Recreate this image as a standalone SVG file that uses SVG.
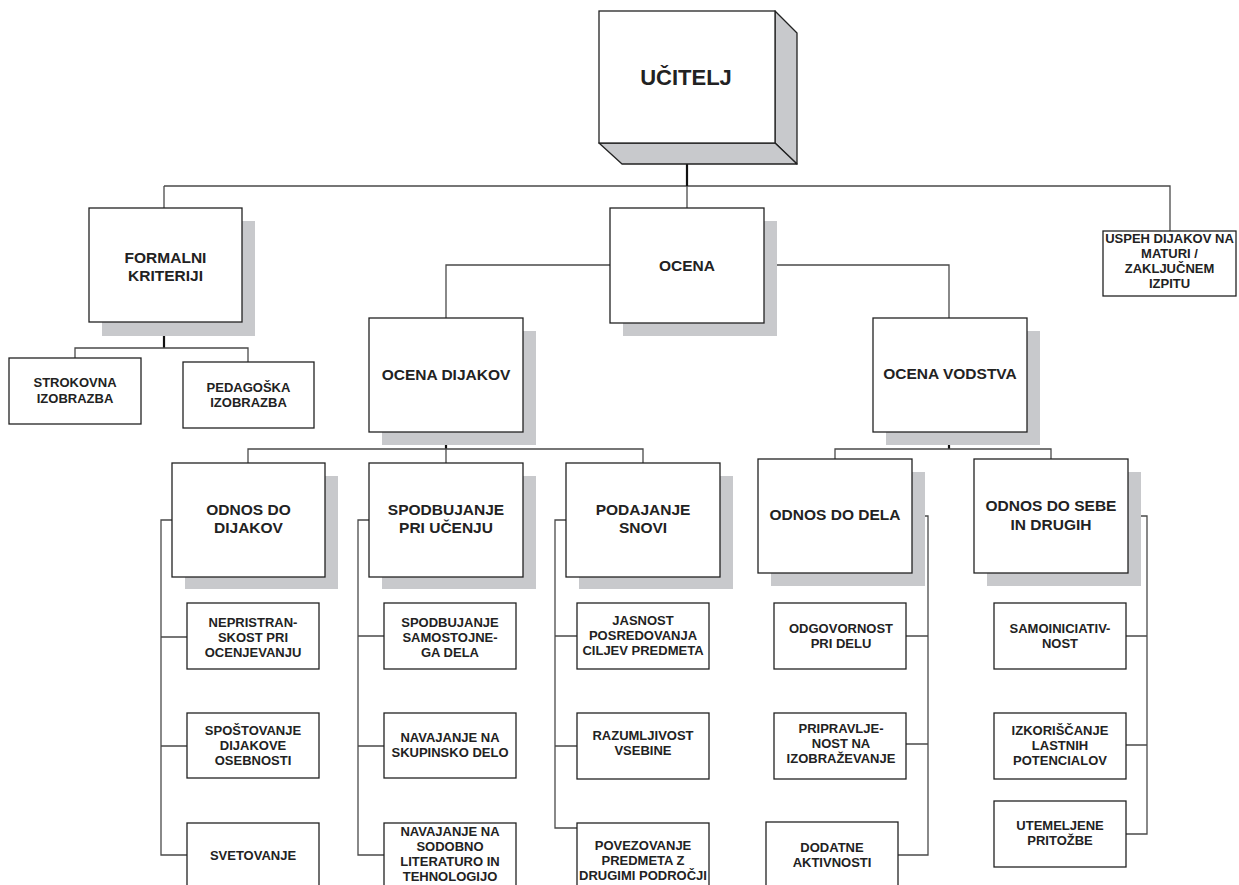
<svg xmlns="http://www.w3.org/2000/svg" width="1239" height="885" viewBox="0 0 1239 885">
<style>
.bg{fill:#fff}
.b{fill:#fff;stroke:#222;stroke-width:1.3}
.sh{fill:#c8c9cc}
.side{fill:#c8c9cc;stroke:#222;stroke-width:1.3;stroke-linejoin:round}
.c{fill:none;stroke:#4a4a4a;stroke-width:1.3}
.k{fill:none;stroke:#111;stroke-width:2.2}
text{font-family:"Liberation Sans",Arial,sans-serif;font-weight:bold;fill:#222;text-anchor:middle}
.t1{font-size:22px}
.t2{font-size:15.5px}
.t3{font-size:13px}
</style>
<rect class="bg" x="0" y="0" width="1239" height="885"/>

<g id="connectors">
  <path class="c" d="M164,186 H1170 V231"/>
  <path class="c" d="M164,186 V208"/>
  <path class="k" d="M687,143 V186"/>
  <path class="c" d="M687,186 V208"/>
  <path class="k" d="M164,322 V348"/>
  <path class="c" d="M75,358 V348 H248 V362"/>
  <path class="c" d="M610,265 H446 V318"/>
  <path class="c" d="M764,265 H949 V318"/>
  <path class="k" d="M446,432 V449"/>
  <path class="c" d="M248,463 V449 H643 V463 M446,449 V463"/>
  <path class="k" d="M949,432 V449"/>
  <path class="c" d="M835,459 V449 H1051 V459"/>
  <path class="c" d="M172,520 H161 V855 H187 M161,637 H187 M161,746 H187"/>
  <path class="c" d="M369,520 H358 V855 H384 M358,636 H384 M358,746 H384"/>
  <path class="c" d="M566,520 H555 V828 H577 M555,636 H577 M555,746 H577"/>
  <path class="c" d="M912,516 H928 V855 H898 M928,636 H906 M928,744 H906"/>
  <path class="c" d="M1128,516 H1147 V834 H1126 M1147,636 H1126 M1147,745 H1126"/>
</g>

<g id="ucitelj">
  <polygon class="side" points="775,11 797,33 797,164 775,143"/>
  <polygon class="side" points="599,143 775,143 797,164 622,164"/>
  <rect class="b" x="599" y="11" width="176" height="132"/>
  <text class="t1" x="686" y="85">UČITELJ</text>
</g>

<g id="formalni">
  <rect class="sh" x="102" y="221" width="153" height="115"/>
  <rect class="b" x="89" y="208" width="153" height="114"/>
  <text class="t2" x="165.5" y="263">FORMALNI</text>
  <text class="t2" x="165.5" y="281">KRITERIJI</text>
</g>
<g id="strokovna">
  <rect class="b" x="9" y="358" width="132" height="66"/>
  <text class="t3" x="75" y="387">STROKOVNA</text>
  <text class="t3" x="75" y="403">IZOBRAZBA</text>
</g>
<g id="pedagoska">
  <rect class="b" x="183" y="362" width="131" height="66"/>
  <text class="t3" x="248.5" y="392">PEDAGOŠKA</text>
  <text class="t3" x="248.5" y="407">IZOBRAZBA</text>
</g>

<g id="ocena">
  <rect class="sh" x="623" y="221" width="154" height="115"/>
  <rect class="b" x="610" y="208" width="154" height="115"/>
  <text class="t2" x="687" y="271">OCENA</text>
</g>

<g id="uspeh">
  <rect class="b" x="1103" y="231" width="133" height="65"/>
  <text class="t3" x="1169.5" y="243">USPEH DIJAKOV NA</text>
  <text class="t3" x="1169.5" y="258">MATURI /</text>
  <text class="t3" x="1169.5" y="273">ZAKLJUČNEM</text>
  <text class="t3" x="1169.5" y="288">IZPITU</text>
</g>

<g id="ocena-dijakov">
  <rect class="sh" x="382" y="331" width="154" height="114"/>
  <rect class="b" x="369" y="318" width="154" height="114"/>
  <text class="t2" x="446" y="380">OCENA DIJAKOV</text>
</g>

<g id="ocena-vodstva">
  <rect class="sh" x="886" y="331" width="154" height="114"/>
  <rect class="b" x="873" y="318" width="154" height="114"/>
  <text class="t2" x="950" y="379">OCENA VODSTVA</text>
</g>

<g id="odnos-do-dijakov">
  <rect class="sh" x="185" y="476" width="153" height="113"/>
  <rect class="b" x="172" y="463" width="153" height="114"/>
  <text class="t2" x="248.5" y="515">ODNOS DO</text>
  <text class="t2" x="248.5" y="533">DIJAKOV</text>
</g>
<g id="spodbujanje">
  <rect class="sh" x="382" y="476" width="154" height="113"/>
  <rect class="b" x="369" y="463" width="154" height="114"/>
  <text class="t2" x="446" y="515">SPODBUJANJE</text>
  <text class="t2" x="446" y="533">PRI UČENJU</text>
</g>
<g id="podajanje">
  <rect class="sh" x="579" y="476" width="154" height="113"/>
  <rect class="b" x="566" y="463" width="154" height="114"/>
  <text class="t2" x="643" y="515">PODAJANJE</text>
  <text class="t2" x="643" y="533">SNOVI</text>
</g>
<g id="odnos-do-dela">
  <rect class="sh" x="771" y="472" width="154" height="114"/>
  <rect class="b" x="758" y="459" width="154" height="114"/>
  <text class="t2" x="835" y="520">ODNOS DO DELA</text>
</g>
<g id="odnos-do-sebe">
  <rect class="sh" x="987" y="472" width="154" height="114"/>
  <rect class="b" x="974" y="459" width="154" height="114"/>
  <text class="t2" x="1051" y="511">ODNOS DO SEBE</text>
  <text class="t2" x="1051" y="530">IN DRUGIH</text>
</g>

<g id="nepristranskost">
  <rect class="b" x="187" y="603" width="132" height="66"/>
  <text class="t3" x="253" y="627">NEPRISTRAN-</text>
  <text class="t3" x="253" y="642">SKOST PRI</text>
  <text class="t3" x="253" y="657">OCENJEVANJU</text>
</g>
<g id="spostovanje">
  <rect class="b" x="187" y="713" width="132" height="65"/>
  <text class="t3" x="253" y="735">SPOŠTOVANJE</text>
  <text class="t3" x="253" y="750">DIJAKOVE</text>
  <text class="t3" x="253" y="765">OSEBNOSTI</text>
</g>
<g id="svetovanje">
  <rect class="b" x="187" y="823" width="132" height="70"/>
  <text class="t3" x="253" y="860">SVETOVANJE</text>
</g>

<g id="spodbujanje-samostojnega">
  <rect class="b" x="384" y="603" width="132" height="66"/>
  <text class="t3" x="450" y="627">SPODBUJANJE</text>
  <text class="t3" x="450" y="642">SAMOSTOJNE-</text>
  <text class="t3" x="450" y="657">GA DELA</text>
</g>
<g id="navajanje-skupinsko">
  <rect class="b" x="384" y="713" width="132" height="65"/>
  <text class="t3" x="450" y="742">NAVAJANJE NA</text>
  <text class="t3" x="450" y="757">SKUPINSKO DELO</text>
</g>
<g id="navajanje-sodobno">
  <rect class="b" x="384" y="823" width="132" height="70"/>
  <text class="t3" x="450" y="836">NAVAJANJE NA</text>
  <text class="t3" x="450" y="851">SODOBNO</text>
  <text class="t3" x="450" y="866">LITERATURO IN</text>
  <text class="t3" x="450" y="881">TEHNOLOGIJO</text>
</g>

<g id="jasnost">
  <rect class="b" x="577" y="603" width="132" height="66"/>
  <text class="t3" x="643" y="625">JASNOST</text>
  <text class="t3" x="643" y="640">POSREDOVANJA</text>
  <text class="t3" x="643" y="655">CILJEV PREDMETA</text>
</g>
<g id="razumljivost">
  <rect class="b" x="577" y="713" width="132" height="66"/>
  <text class="t3" x="643" y="740">RAZUMLJIVOST</text>
  <text class="t3" x="643" y="755">VSEBINE</text>
</g>
<g id="povezovanje">
  <rect class="b" x="577" y="823" width="132" height="70"/>
  <text class="t3" x="643" y="850">POVEZOVANJE</text>
  <text class="t3" x="643" y="865">PREDMETA Z</text>
  <text class="t3" x="643" y="880">DRUGIMI PODROČJI</text>
</g>

<g id="odgovornost">
  <rect class="b" x="774" y="603" width="132" height="66"/>
  <text class="t3" x="841" y="633">ODGOVORNOST</text>
  <text class="t3" x="841" y="648">PRI DELU</text>
</g>
<g id="pripravljenost">
  <rect class="b" x="774" y="713" width="132" height="66"/>
  <text class="t3" x="841" y="733">PRIPRAVLJE-</text>
  <text class="t3" x="841" y="748">NOST NA</text>
  <text class="t3" x="841" y="763">IZOBRAŽEVANJE</text>
</g>
<g id="dodatne">
  <rect class="b" x="766" y="822" width="132" height="70"/>
  <text class="t3" x="832" y="852">DODATNE</text>
  <text class="t3" x="832" y="867">AKTIVNOSTI</text>
</g>

<g id="samoiniciativnost">
  <rect class="b" x="994" y="603" width="132" height="66"/>
  <text class="t3" x="1060" y="633">SAMOINICIATIV-</text>
  <text class="t3" x="1060" y="648">NOST</text>
</g>
<g id="izkoriscanje">
  <rect class="b" x="994" y="713" width="132" height="66"/>
  <text class="t3" x="1060" y="735">IZKORIŠČANJE</text>
  <text class="t3" x="1060" y="750">LASTNIH</text>
  <text class="t3" x="1060" y="765">POTENCIALOV</text>
</g>
<g id="utemeljene">
  <rect class="b" x="994" y="801" width="132" height="66"/>
  <text class="t3" x="1060" y="830">UTEMELJENE</text>
  <text class="t3" x="1060" y="845">PRITOŽBE</text>
</g>
</svg>
